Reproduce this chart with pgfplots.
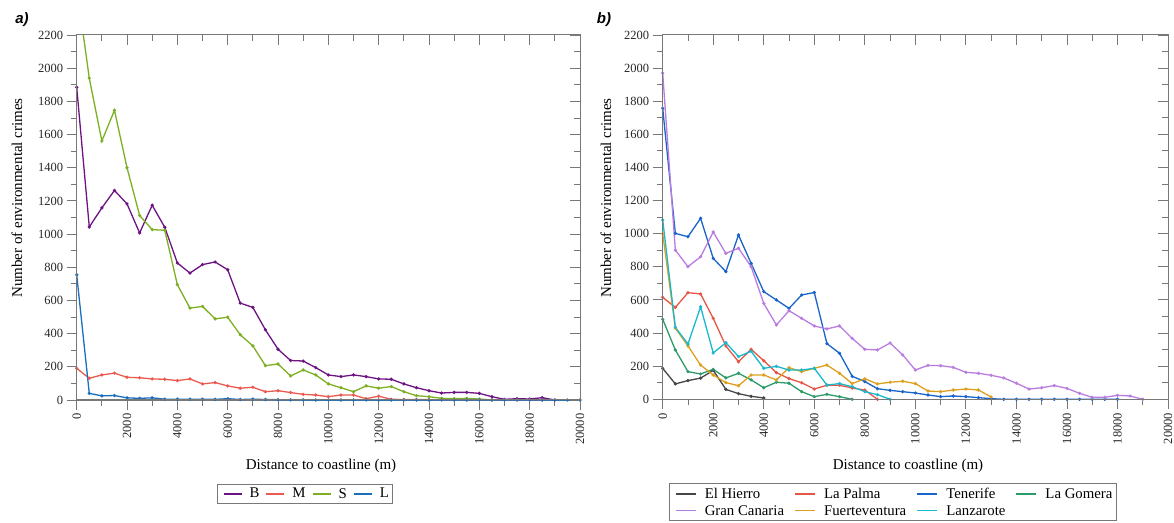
\documentclass[border=0pt]{standalone}
\usepackage{fontspec}
\setmainfont{Liberation Serif}
\newfontfamily\titlefont{Liberation Sans}
\usepackage{pgfplots}
\pgfplotsset{compat=1.18}

\definecolor{axgray}{RGB}{120,120,120}
\definecolor{colB}{RGB}{110,20,130}
\definecolor{colM}{RGB}{235,90,80}
\definecolor{colS}{RGB}{125,175,35}
\definecolor{colL}{RGB}{25,110,190}
\definecolor{colEH}{RGB}{70,70,70}
\definecolor{colLP}{RGB}{230,85,70}
\definecolor{colTF}{RGB}{25,100,200}
\definecolor{colLG}{RGB}{45,155,105}
\definecolor{colGC}{RGB}{185,125,225}
\definecolor{colFV}{RGB}{220,160,30}
\definecolor{colLZ}{RGB}{25,185,205}

\newcommand{\lstrut}{\rule[-4.2pt]{0pt}{15.6pt}}

\pgfplotsset{
  panel/.style={
    scale only axis,
    xmin=0, xmax=20000, ymin=0, ymax=2200,
    xtick={0,2000,...,20000}, minor x tick num=1,
    ytick={0,200,...,2200}, minor y tick num=1,
    major tick length=10pt, minor tick length=6pt,
    axis line style={draw=axgray, line width=1pt},
    tick style={draw=axgray, line width=0.9pt},
    scaled ticks=false,
    /pgf/number format/1000 sep={},
    /pgf/number format/assume math mode=true,
    tick label style={font=\rmfamily\fontsize{12.5}{14}\selectfont, text=black!85},
    xticklabel style={rotate=90, anchor=east},
  },
  mainax/.style={panel, tick align=outside, xtick pos=left, ytick pos=left,
    legend style={draw=axgray, line width=0.8pt, font=\fontsize{14.8}{16}\selectfont,
      inner sep=1.5pt, anchor=north},
    legend cell align=left,
  },
  overax/.style={panel, tick align=inside, xtick pos=right, ytick pos=right,
    xticklabels={}, yticklabels={}},
  ser/.style={color=#1, line width=1.3pt, mark=*, mark size=0.9pt},
}

\begin{document}
\begin{tikzpicture}
\path[use as bounding box] (0,0) rectangle (1174pt,522pt);

% ---------- panel a ----------
\begin{axis}[mainax, at={(76.7pt,122pt)}, anchor=south west, width=503.3pt, height=365pt,
  legend columns=4,
  legend image code/.code={\draw[line width=1.8pt] (0pt,0pt) -- (18pt,0pt); \path[draw=none,fill=none] (-5pt,-6pt) rectangle (24pt,6pt);},
  legend style={at={(0.453,-0.231)},
    /tikz/every even column/.append style={column sep=0pt}}]
\addplot[ser=colB] coordinates {(0,1885) (500,1043) (1000,1158) (1500,1263) (2000,1182) (2500,1007) (3000,1174) (3500,1041) (4000,826) (4500,765) (5000,816) (5500,832) (6000,785) (6500,584) (7000,558) (7500,423) (8000,306) (8500,238) (9000,235) (9500,195) (10000,151) (10500,141) (11000,151) (11500,141) (12000,127) (12500,125) (13000,97) (13500,74) (14000,56) (14500,42) (15000,46) (15500,46) (16000,40) (16500,20) (17000,4) (17500,8) (18000,6) (18500,14) (19000,0)};
\addlegendentry{B}
\addplot[ser=colM] coordinates {(0,191) (500,131) (1000,151) (1500,162) (2000,137) (2500,134) (3000,127) (3500,125) (4000,117) (4500,127) (5000,97) (5500,105) (6000,85) (6500,71) (7000,77) (7500,50) (8000,56) (8500,45) (9000,34) (9500,30) (10000,20) (10500,30) (11000,30) (11500,8) (12000,23) (12500,4) (13000,3) (13500,3) (14000,2) (14500,2) (15000,2) (15500,2) (16000,1) (16500,1) (17000,1) (17500,1) (18000,1) (18500,0)};
\addlegendentry{M}
\addplot[ser=colS] coordinates {(0,2490) (500,1940) (1000,1561) (1500,1746) (2000,1400) (2500,1112) (3000,1027) (3500,1023) (4000,695) (4500,554) (5000,564) (5500,489) (6000,499) (6500,393) (7000,326) (7500,207) (8000,217) (8500,145) (9000,181) (9500,151) (10000,97) (10500,74) (11000,50) (11500,85) (12000,71) (12500,81) (13000,50) (13500,26) (14000,20) (14500,10) (15000,8) (15500,10) (16000,6) (16500,0)};
\addlegendentry{S}
\addplot[ser=colL] coordinates {(0,755) (500,40) (1000,25) (1500,27) (2000,13) (2500,10) (3000,13) (3500,5) (4000,5) (4500,5) (5000,5) (5500,4) (6000,8) (6500,3) (7000,5) (7500,3) (8000,2) (8500,1) (9000,1) (9500,0) (10000,0) (10500,0) (11000,0) (11500,0) (12000,0) (12500,0) (13000,0) (13500,0) (14000,0) (14500,0) (15000,0) (15500,0) (16000,0) (16500,0) (17000,0) (17500,0) (18000,0) (18500,0) (19000,0) (19500,0) (20000,0)};
\addlegendentry{L}
\end{axis}
\begin{axis}[overax, at={(76.7pt,122pt)}, anchor=south west, width=503.3pt, height=365pt]
\end{axis}

% ---------- panel b ----------
\begin{axis}[mainax, at={(662.7pt,122.7pt)}, anchor=south west, width=505.3pt, height=364.3pt,
  legend columns=4,
  legend image code/.code={\draw[line width=1.8pt] (0pt,0pt) -- (20pt,0pt); \path[draw=none,fill=none] (-5pt,-7.5pt) rectangle (27pt,7.5pt);},
  legend style={at={(0.455,-0.2305)},
    /tikz/every even column/.append style={column sep=4pt}}]
\addplot[ser=colEH] coordinates {(0,187) (500,93) (1000,113) (1500,128) (2000,175) (2500,60) (3000,34) (3500,18) (4000,8)};
\addlegendentry{\lstrut El Hierro}
\addplot[ser=colLP] coordinates {(0,616) (500,555) (1000,644) (1500,636) (2000,489) (2500,322) (3000,227) (3500,302) (4000,233) (4500,161) (5000,125) (5500,100) (6000,62) (6500,85) (7000,85) (7500,68) (8000,56) (8500,0)};
\addlegendentry{\lstrut La Palma}
\addplot[ser=colTF] coordinates {(0,1757) (500,1002) (1000,982) (1500,1093) (2000,851) (2500,771) (3000,992) (3500,821) (4000,650) (4500,600) (5000,549) (5500,630) (6000,645) (6500,336) (7000,278) (7500,139) (8000,107) (8500,64) (9000,54) (9500,46) (10000,38) (10500,26) (11000,16) (11500,20) (12000,16) (12500,10) (13000,4) (13500,0) (14000,0) (14500,0) (15000,0) (15500,0) (16000,0) (16500,0) (17000,0) (17500,0) (18000,0)};
\addlegendentry{\lstrut Tenerife}
\addplot[ser=colLG] coordinates {(0,483) (500,298) (1000,167) (1500,153) (2000,181) (2500,129) (3000,157) (3500,117) (4000,70) (4500,103) (5000,97) (5500,46) (6000,16) (6500,30) (7000,16) (7500,0)};
\addlegendentry{\lstrut La Gomera}
\addplot[ser=colGC] coordinates {(0,1970) (500,901) (1000,801) (1500,861) (2000,1010) (2500,881) (3000,912) (3500,801) (4000,579) (4500,449) (5000,535) (5500,489) (6000,443) (6500,425) (7000,443) (7500,368) (8000,302) (8500,298) (9000,340) (9500,268) (10000,177) (10500,205) (11000,203) (11500,193) (12000,163) (12500,157) (13000,145) (13500,129) (14000,97) (14500,62) (15000,70) (15500,83) (16000,66) (16500,36) (17000,12) (17500,12) (18000,24) (18500,20) (19000,0)};
\addlegendentry{\lstrut Gran Canaria}
\addplot[ser=colFV] coordinates {(0,1000) (500,430) (1000,322) (1500,207) (2000,147) (2500,101) (3000,82) (3500,147) (4000,147) (4500,117) (5000,191) (5500,167) (6000,187) (6500,207) (7000,157) (7500,95) (8000,124) (8500,93) (9000,103) (9500,109) (10000,95) (10500,50) (11000,46) (11500,56) (12000,62) (12500,56) (13000,14)};
\addlegendentry{\lstrut Fuerteventura}
\addplot[ser=colLZ] coordinates {(0,1083) (500,435) (1000,334) (1500,559) (2000,280) (2500,342) (3000,258) (3500,290) (4000,187) (4500,199) (5000,177) (5500,177) (6000,187) (6500,86) (7000,95) (7500,76) (8000,46) (8500,28) (9000,0)};
\addlegendentry{\lstrut Lanzarote}
\end{axis}
\begin{axis}[overax, at={(662.7pt,122.7pt)}, anchor=south west, width=505.3pt, height=364.3pt]
\end{axis}

% ---------- labels ----------
\node[font=\titlefont\bfseries\itshape\fontsize{15}{17}\selectfont] at (22pt,502pt) {a)};
\node[font=\titlefont\bfseries\itshape\fontsize{15}{17}\selectfont] at (604pt,502pt) {b)};
\node[rotate=90, font=\fontsize{15}{17}\selectfont] at (17pt,324pt) {Number of environmental crimes};
\node[rotate=90, font=\fontsize{15}{17}\selectfont] at (606pt,324pt) {Number of environmental crimes};
\node[font=\fontsize{15}{17}\selectfont] at (321pt,56pt) {Distance to coastline (m)};
\node[font=\fontsize{15}{17}\selectfont] at (908pt,56pt) {Distance to coastline (m)};
\end{tikzpicture}
\end{document}
